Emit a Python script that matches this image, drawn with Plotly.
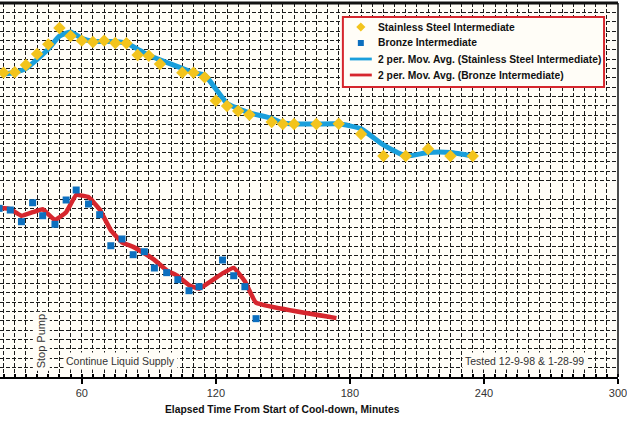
import plotly.graph_objects as go

# ---- data ----
ss_time = [20, 25, 30, 35, 40, 45, 50, 55, 60, 65, 70, 75, 80, 85, 90, 95, 105, 110, 115,
           120, 125, 130, 135, 145, 150, 155, 165, 175, 185, 195, 205, 215, 225, 235]
ss_value = [32.25, 32.55, 32.59, 33.37, 34.55, 35.58, 37.33, 36.47, 35.97, 35.83, 35.97, 35.72,
            35.69, 34.44, 34.36, 33.48, 32.55, 32.55, 32.05, 29.55, 28.98, 28.45, 28.05,
            27.27, 27.06, 27.06, 27.06, 27.09, 25.99, 23.64, 23.64, 24.39, 23.64, 23.64]

br_time = [18, 23, 28, 33, 38, 42.5, 48, 53, 57.5, 63, 68, 73, 78, 83, 88, 92.5, 98, 103,
           108, 112.5, 123, 128, 133, 138]
br_value = [18.16, 18.04, 17.86, 16.61, 18.64, 17.25, 16.33, 18.93, 20.0, 18.5, 17.36, 14.04,
            14.76, 13.08, 13.4, 11.66, 11.16, 10.41, 9.23, 9.66, 12.51, 10.83, 9.66, 6.24]

# end point of the bronze moving-average line (beyond last plotted square)
br_ma_tail_time = [174]
br_ma_tail_value = [6.3]

x_ticks = [60, 120, 180, 240, 300]

legend_labels = ["Stainless Steel Intermediate", "Bronze Intermediate",
                 "2 per. Mov. Avg. (Stainless Steel Intermediate)",
                 "2 per. Mov. Avg. (Bronze Intermediate)"]


def moving_avg(t, v):
    xs, ys = [], []
    for i in range(1, len(v)):
        xs.append(t[i])
        ys.append((v[i - 1] + v[i]) / 2)
    return xs, ys


ss_ma_x, ss_ma_y = moving_avg(ss_time, ss_value)
br_ma_x, br_ma_y = moving_avg(br_time, br_value)
br_ma_x += br_ma_tail_time
br_ma_y += br_ma_tail_value

GOLD = "#F3C41C"
SQ_BLUE = "#0C6FBF"
LINE_BLUE = "#1A9FDB"
RED = "#D6262D"
BG = "#FFFDF7"
FONT = "Liberation Sans, Arial, sans-serif"

# plot-area geometry in pixels
PX0, PW = 0, 620
PY_TOP, PH = 3, 374


def px(x):
    return (x - PX0) / PW


def py(y):
    return (PY_TOP + PH - y) / PH


fig = go.Figure()
fig.add_trace(go.Scatter(x=ss_ma_x, y=ss_ma_y, mode="lines",
                         line=dict(color=LINE_BLUE, width=5, shape="spline", smoothing=0.5),
                         name=legend_labels[2], showlegend=False))
fig.add_trace(go.Scatter(x=br_ma_x, y=br_ma_y, mode="lines",
                         line=dict(color=RED, width=4.5, shape="spline", smoothing=0.3),
                         name=legend_labels[3], showlegend=False))
fig.add_trace(go.Scatter(x=ss_time, y=ss_value, mode="markers",
                         marker=dict(symbol="diamond", size=9.5, color=GOLD),
                         name=legend_labels[0], showlegend=False))
fig.add_trace(go.Scatter(x=br_time, y=br_value, mode="markers",
                         marker=dict(symbol="square", size=7, color=SQ_BLUE),
                         name=legend_labels[1], showlegend=False))

grid_col = "#1a1a1a"
fig.update_xaxes(range=[23.4, 300], tickvals=x_ticks, ticktext=[str(v) for v in x_ticks],
                 showgrid=False, zeroline=False, showline=True, linecolor="black", linewidth=1.5,
                 ticks="outside", ticklen=5, tickwidth=1.5, tickcolor="black",
                 ticklabeloverflow="allow",
                 tickfont=dict(family=FONT, size=11, color="#333"),
                 minor=dict(dtick=5, tick0=0, showgrid=True, gridcolor=grid_col, gridwidth=1,
                            griddash="4px,2px", ticks="inside", ticklen=3, tickcolor="black"))
fig.update_yaxes(range=[0, 40], dtick=20, showticklabels=False, showgrid=False,
                 zeroline=False, showline=False,
                 minor=dict(dtick=1, tick0=0, showgrid=True, gridcolor=grid_col, gridwidth=1,
                            griddash="4px,2px"))

ann_font = dict(family=FONT, size=10.5, color="#333")
fig.add_annotation(x=77.4, y=1.71, text="Continue Liquid Supply", showarrow=False, font=ann_font,
                   bgcolor=BG, borderpad=2)
fig.add_annotation(x=258.2, y=1.71, text="Tested 12-9-98 &amp; 1-28-99", showarrow=False, font=ann_font,
                   bgcolor=BG, borderpad=2)
fig.add_annotation(x=41.9, y=3.85, text="Stop Pump", textangle=-90, showarrow=False,
                   font=dict(family=FONT, size=11, color="#333"), bgcolor=BG, borderpad=2)
fig.add_annotation(xref="paper", yref="paper", x=px(283.5), y=py(410),
                   text="<b>Elapsed Time From Start of Cool-down, Minutes</b>", showarrow=False,
                   font=dict(family=FONT, size=10.3, color="#111"), yanchor="middle")

# top and right frame lines
fig.add_shape(type="line", xref="paper", yref="paper", x0=0, x1=1, y0=1, y1=1,
              line=dict(color="#111", width=3))
fig.add_shape(type="line", xref="paper", yref="paper", x0=1, x1=1, y0=0, y1=1,
              line=dict(color="#111", width=1.5))

# ---- legend box (drawn) ----
fig.add_shape(type="rect", xref="paper", yref="paper", x0=px(344), x1=px(606), y0=py(87), y1=py(17),
              fillcolor=BG, line=dict(color=RED, width=2), layer="above")
rows = [27, 43, 59, 75]
gx = 362
d = 4.6
fig.add_shape(type="path", xref="paper", yref="paper", layer="above",
              path=f"M {px(gx - d)} {py(rows[0])} L {px(gx)} {py(rows[0] - d)} L {px(gx + d)} {py(rows[0])} "
                   f"L {px(gx)} {py(rows[0] + d)} Z",
              fillcolor=GOLD, line=dict(width=0))
s = 3.0
fig.add_shape(type="rect", xref="paper", yref="paper", layer="above",
              x0=px(gx - s), x1=px(gx + s), y0=py(rows[1] + s), y1=py(rows[1] - s),
              fillcolor=SQ_BLUE, line=dict(width=0))
for r, c in [(rows[2], LINE_BLUE), (rows[3], RED)]:
    fig.add_shape(type="line", xref="paper", yref="paper", layer="above",
                  x0=px(351), x1=px(373), y0=py(r), y1=py(r), line=dict(color=c, width=2.8))
for r, lab in zip(rows, legend_labels):
    fig.add_annotation(xref="paper", yref="paper", x=px(377), y=py(r), xanchor="left", yanchor="middle",
                       text=f"<b>{lab}</b>", showarrow=False,
                       font=dict(family=FONT, size=10.3, color="#111"))

fig.update_layout(
    width=627, height=421,
    margin=dict(l=0, r=7, t=3, b=44),
    paper_bgcolor="white", plot_bgcolor=BG,
    showlegend=False,
)

fig.write_html("out.html", config={"displayModeBar": False},
               post_script="document.body.style.margin='0';document.body.style.overflow='hidden';")
